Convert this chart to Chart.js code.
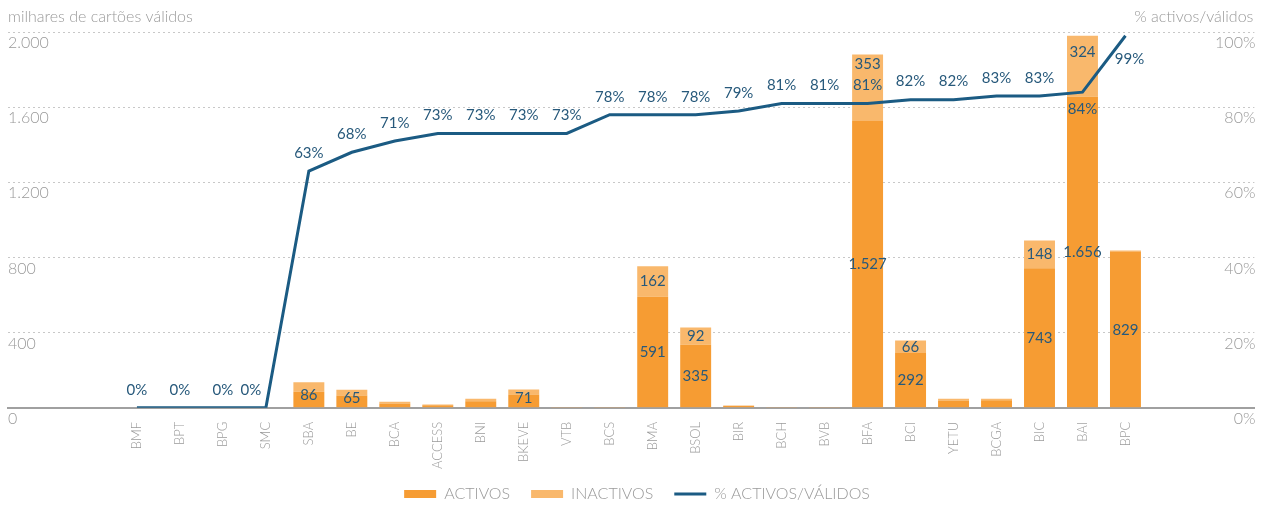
<!DOCTYPE html>
<html>
<head>
<meta charset="utf-8">
<script src="https://cdn.jsdelivr.net/npm/chart.js@4"></script>
<style>
  html, body { margin: 0; padding: 0; background: #fff; }
  #wrap { width: 1276px; height: 506px; }
</style>
</head>
<body>
<div id="wrap"><canvas id="chart"></canvas></div>
<script>
const categories = ['BMF', 'BPT', 'BPG', 'SMC', 'SBA', 'BE', 'BCA', 'ACCESS', 'BNI', 'BKEVE', 'VTB', 'BCS',
  'BMA', 'BSOL', 'BIR', 'BCH', 'BVB', 'BFA', 'BCI', 'YETU', 'BCGA', 'BIC', 'BAI', 'BPC'];
const activos = [0, 0, 0, 0, 86, 65, 23, 13, 35, 71, 1, 1, 591, 335, 10, 1, 1, 1527, 292, 39, 40, 743, 1656, 829];
const inactivos = [0, 0, 0, 0, 50, 31, 9, 5, 13, 26, 0, 0, 162, 92, 2, 0, 0, 353, 66, 9, 8, 148, 324, 8];
const pctActivos = [0, 0, 0, 0, 63, 68, 71, 73, 73, 73, 73, 78, 78, 78, 79, 81, 81, 81, 82, 82, 83, 83, 84, 99];
const leftTicks = [0, 400, 800, 1200, 1600, 2000];
const rightTicks = [0, 20, 40, 60, 80, 100];

const PAD = 3; // empty slots each side of the category axis
const blank = Array(PAD).fill('');
const none = Array(PAD).fill(null);
const padded = (arr) => [...none, ...arr, ...none];

const FONT = 'Lato, "Open Sans", sans-serif';
const GREY = '#9a9a9a';
const BLUE = '#1b5b83';
const LABEL = '#27597b';

// nudges for labels that would collide in the original layout
const lineLabelShift = { SMC: [-15, -18], BAI: [0, 17], BPC: [4, 23] };
const barLabelShift = { BFA: -24, BAI: -14 };

const fmt = (v) => String(v).replace(/\B(?=(\d{3})+(?!\d))/g, '.');

const valueLabels = {
  id: 'valueLabels',
  afterDatasetsDraw(chart) {
    const ctx = chart.ctx;
    const area = chart.chartArea;
    const act = chart.getDatasetMeta(0).data;
    const ina = chart.getDatasetMeta(1).data;
    const line = chart.getDatasetMeta(2).data;
    ctx.save();
    ctx.font = '15px ' + FONT;
    ctx.fillStyle = LABEL;
    ctx.textAlign = 'center';
    ctx.textBaseline = 'middle';
    categories.forEach((name, i) => {
      const a = act[i + PAD], b = ina[i + PAD], p = line[i + PAD];
      if (activos[i] >= 60) {
        const small = a.base - a.y < 22;
        ctx.fillText(fmt(activos[i]), a.x, small ? (a.base + b.y) / 2 : (a.base + a.y) / 2);
      }
      if (inactivos[i] >= 60) {
        ctx.fillText(fmt(inactivos[i]), b.x, (b.base + b.y) / 2 + (barLabelShift[name] || 0));
      }
      const [dx, dy] = lineLabelShift[name] || [0, -18];
      ctx.fillText(pctActivos[i] + '%', p.x + dx, p.y + dy);
    });

    // axis captions
    ctx.font = '300 16px ' + FONT;
    ctx.fillStyle = GREY;
    ctx.textAlign = 'left';
    ctx.fillText('milhares de cartões válidos', area.left, area.top - 15);
    ctx.textAlign = 'right';
    ctx.fillText('% activos/válidos', area.right - 1, area.top - 15);
    ctx.restore();
  }
};

new Chart(document.getElementById('chart'), {
  type: 'bar',
  data: {
    labels: [...blank, ...categories, ...blank],
    datasets: [
      {
        label: 'ACTIVOS',
        data: padded(activos),
        backgroundColor: '#f69c33',
        pointStyle: 'rect',
        yAxisID: 'y',
        order: 1,
      },
      {
        label: 'INACTIVOS',
        data: padded(inactivos),
        backgroundColor: '#f9b86c',
        pointStyle: 'rect',
        yAxisID: 'y',
        order: 1,
      },
      {
        type: 'line',
        label: '% ACTIVOS/VÁLIDOS',
        data: padded(pctActivos),
        borderColor: BLUE,
        backgroundColor: BLUE,
        borderWidth: 3,
        pointRadius: 0,
        pointStyle: 'line',
        tension: 0,
        yAxisID: 'y1',
        order: 0,
      },
    ],
  },
  options: {
    responsive: true,
    maintainAspectRatio: false,
    animation: false,
    layout: { padding: { top: 32, left: 8, right: 10, bottom: -6 } },
    datasets: {
      bar: { categoryPercentage: 0.72, barPercentage: 1 },
    },
    plugins: {
      tooltip: { enabled: false },
      legend: {
        position: 'bottom',
        labels: {
          usePointStyle: true,
          pointStyleWidth: 32,
          boxHeight: 8,
          padding: 11,
          color: GREY,
          font: { family: FONT, size: 16, weight: 300 },
          sort: (a, b) => a.datasetIndex - b.datasetIndex,
          // keep the wide gap between items while the vertical padding stays small
          generateLabels: (chart) => {
            const items = Chart.defaults.plugins.legend.labels.generateLabels(chart);
            const last = chart.data.datasets.length - 1;
            items.forEach((it) => { if (it.datasetIndex !== last) it.text += '\u2002\u2009'; });
            return items;
          },
        },
      },
    },
    scales: {
      x: {
        stacked: true,
        offset: false,
        grid: { display: false },
        border: { display: true, color: '#a0a0a0', width: 2 },
        ticks: {
          autoSkip: false,
          maxRotation: 90,
          minRotation: 90,
          padding: 6,
          color: GREY,
          font: { family: FONT, size: 13, weight: 300 },
        },
      },
      y: {
        stacked: true,
        position: 'left',
        min: 0,
        max: 2000,
        afterBuildTicks: (axis) => { axis.ticks = leftTicks.map((v) => ({ value: v })); },
        grid: { color: '#c8c8c8', lineWidth: 1, drawTicks: false },
        border: { display: false, dash: [2, 3] },
        ticks: {
          mirror: true,
          padding: 0,
          labelOffset: 11,
          color: GREY,
          font: { family: FONT, size: 16, weight: 300 },
          callback: (v) => fmt(v),
        },
      },
      y1: {
        position: 'right',
        min: 0,
        max: 100,
        afterBuildTicks: (axis) => { axis.ticks = rightTicks.map((v) => ({ value: v })); },
        grid: { display: false, drawTicks: false },
        border: { display: false },
        ticks: {
          mirror: true,
          padding: 1,
          labelOffset: 11,
          color: GREY,
          font: { family: FONT, size: 16, weight: 300 },
          callback: (v) => v + '%',
        },
      },
    },
  },
  plugins: [valueLabels],
});
</script>
</body>
</html>
